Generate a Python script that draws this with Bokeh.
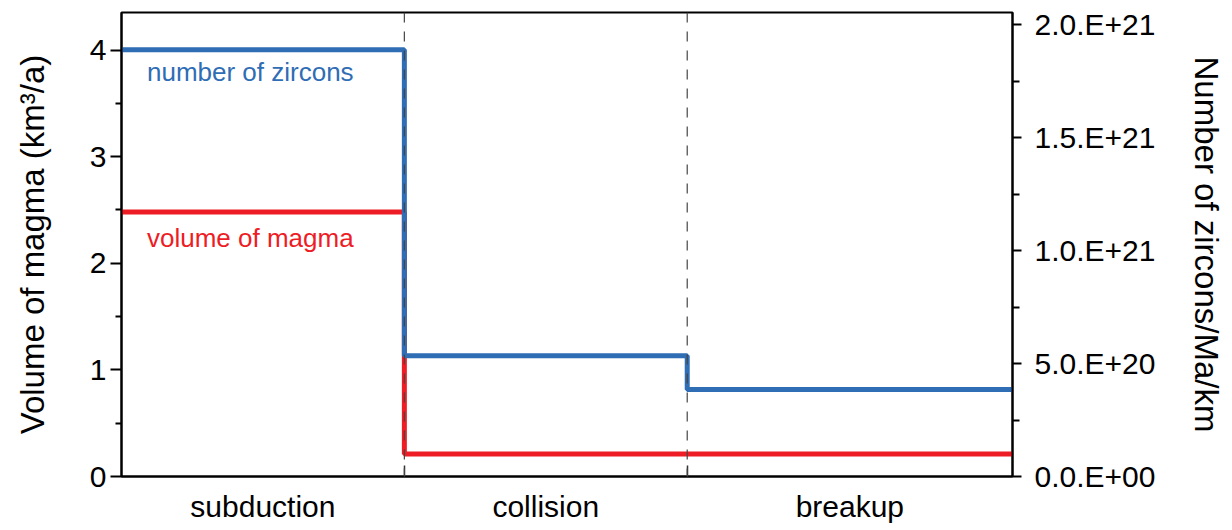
from bokeh.plotting import figure
from bokeh.models import Range1d, LinearAxis, FixedTicker, Label, Span
from bokeh.embed import file_html
from bokeh.resources import INLINE

# Tectonic phases and their extent along the (arbitrary) time axis
phases = ["subduction", "collision", "breakup"]
phase_edges = [0.0, 1.0, 2.0, 3.15]

# Series per phase
magma_volume = [2.48, 0.21, 0.21]              # km3/a
zircon_count = [1.89e21, 5.35e20, 3.85e20]     # zircons/Ma/km

# Axis ticks
left_ticks = [0, 1, 2, 3, 4]
left_minor = [0.5, 1.5, 2.5, 3.5]
right_ticks = [0.0, 5e20, 1e21, 1.5e21, 2e21]
right_labels = ["0.0.E+00", "5.0.E+20", "1.0.E+21", "1.5.E+21", "2.0.E+21"]
right_minor = [2.5e20, 7.5e20, 1.25e21, 1.75e21]

FONT = "Liberation Sans"
BLUE = "#2f6db5"
RED = "#ee1c25"
TICK_SIZE = "30px"
TITLE_SIZE = "33px"

p = figure(width=1232, height=530, output_backend="svg", toolbar_location=None,
           x_range=Range1d(phase_edges[0], phase_edges[-1]), y_range=Range1d(0, 4.352),
           min_border_left=121, min_border_right=220, min_border_top=12, min_border_bottom=54)
p.extra_y_ranges = {"zircons": Range1d(0, 2.055e21)}
p.background_fill_color = "white"
p.border_fill_color = "white"
p.outline_line_color = "black"
p.outline_line_width = 2
p.xgrid.visible = False
p.ygrid.visible = False


def style_axis(ax):
    ax.axis_label_text_font = FONT
    ax.axis_label_text_font_style = "normal"
    ax.axis_label_text_font_size = TITLE_SIZE
    ax.axis_label_text_color = "black"
    ax.major_label_text_font = FONT
    ax.major_label_text_font_size = TICK_SIZE
    ax.major_label_text_color = "black"
    ax.axis_line_width = 2
    ax.axis_line_color = "black"
    ax.major_tick_line_width = 2
    ax.minor_tick_line_width = 2
    ax.major_tick_line_color = "black"
    ax.minor_tick_line_color = "black"


# Left axis: volume of magma
ya = p.yaxis[0]
style_axis(ya)
ya.ticker = FixedTicker(ticks=left_ticks, minor_ticks=left_minor)
ya.axis_label = "Volume of magma (km³/a)"
ya.axis_label_standoff = 36
ya.major_label_standoff = 4
ya.major_tick_in = 0
ya.major_tick_out = 11
ya.minor_tick_in = 0
ya.minor_tick_out = 6

# Right axis: number of zircons
ra = LinearAxis(y_range_name="zircons",
                ticker=FixedTicker(ticks=right_ticks, minor_ticks=right_minor))
style_axis(ra)
ra.major_label_overrides = {t: s for t, s in zip(right_ticks, right_labels)}
ra.axis_label = "Number of zircons/Ma/km"
ra.axis_label_standoff = 30
ra.major_label_standoff = 13
ra.major_tick_in = 0
ra.major_tick_out = 9
ra.minor_tick_in = 0
ra.minor_tick_out = 7
p.add_layout(ra, "right")

# Bottom axis: phase names centred in each interval, small marks at boundaries
centers = [(a + b) / 2 for a, b in zip(phase_edges[:-1], phase_edges[1:])]
xa = p.xaxis[0]
style_axis(xa)
xa.ticker = FixedTicker(ticks=centers, minor_ticks=phase_edges[1:-1])
xa.major_label_overrides = {c: name for c, name in zip(centers, phases)}
xa.major_label_standoff = 13
xa.major_tick_in = 0
xa.major_tick_out = 0
xa.minor_tick_in = 11
xa.minor_tick_out = 0
xa.minor_tick_line_width = 1.5
xa.minor_tick_line_color = "#333333"

# Phase boundaries
for edge in phase_edges[1:-1]:
    p.add_layout(Span(location=edge, dimension="height", line_color="#444444",
                      line_width=1.2, line_dash="10 9"))

# Step lines
p.step(phase_edges, magma_volume + [magma_volume[-1]], mode="after",
       line_color=RED, line_width=5)
p.step(phase_edges, zircon_count + [zircon_count[-1]], mode="after",
       y_range_name="zircons", line_color=BLUE, line_width=5)

p.add_layout(Label(x=0.09, y=3.79, text="number of zircons", text_color=BLUE,
                   text_font=FONT, text_font_size="26px", text_baseline="middle"))
p.add_layout(Label(x=0.09, y=2.24, text="volume of magma", text_color=RED,
                   text_font=FONT, text_font_size="26px", text_baseline="middle"))

open("out.html", "w").write(file_html(p, INLINE))
